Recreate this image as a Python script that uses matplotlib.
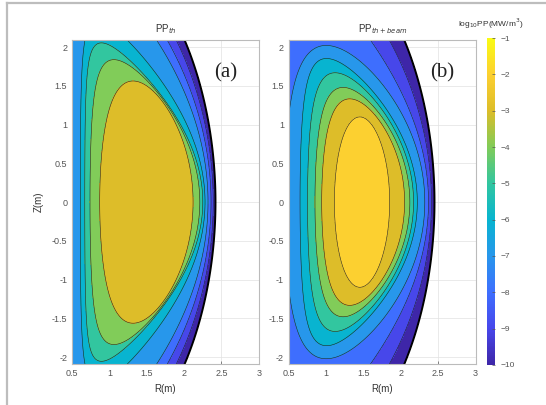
import numpy as np
import matplotlib
matplotlib.use('Agg')
import matplotlib.pyplot as plt
from matplotlib.colors import LinearSegmentedColormap, Normalize
from matplotlib.cm import ScalarMappable
from matplotlib.lines import Line2D

# contour levels of log10 PP
levels = [-10, -9, -8, -7, -6, -5, -4, -3, -2, -1]
cbar_ticks = [-10, -9, -8, -7, -6, -5, -4, -3, -2, -1]
x_ticks = [0.5, 1, 1.5, 2, 2.5, 3]
y_ticks = [-2, -1.5, -1, -0.5, 0, 0.5, 1, 1.5, 2]

# contour boundaries: level, centre R, half width, elongation, triangularity
a_level = [-10, -9, -8, -7, -6, -5, -4, -3]
a_rc = [1.36, 1.36, 1.36, 1.36, 1.445, 1.46, 1.475, 1.495]
a_hw = [1.06, 1.03, 1.00, 0.96, 0.835, 0.79, 0.735, 0.625]
a_kap = [2.90, 2.95, 3.00, 3.00, 2.80, 2.60, 2.50, 2.50]
a_del = [0.246, 0.387, 0.536, 0.65, 0.80, 0.80, 0.60, 0.29]

# same for panel (b)
b_level = [-10, -9, -8, -7, -6, -5, -4, -3, -2]
b_rc = [1.36, 1.36, 1.36, 1.38, 1.435, 1.46, 1.485, 1.495, 1.48]
b_hw = [1.09, 1.05, 1.01, 0.94, 0.785, 0.71, 0.635, 0.555, 0.37]
b_kap = [2.85, 2.90, 2.95, 2.15, 2.36, 2.35, 2.33, 2.40, 2.97]
b_del = [0.227, 0.487, 0.80, 0.416, 0.58, 0.50, 0.42, 0.33, 0.08]

# MATLAB parula(10)
parula_pts = [(0.2422, 0.1504, 0.6603), (0.2803, 0.2782, 0.9221), (0.2440, 0.4358, 0.9988),
              (0.1540, 0.5902, 0.9218), (0.0297, 0.7082, 0.8163), (0.1938, 0.7758, 0.6251),
              (0.5044, 0.7993, 0.3480), (0.8634, 0.7406, 0.1596), (0.9892, 0.8136, 0.1885),
              (0.9769, 0.9839, 0.0805)]
parula = LinearSegmentedColormap.from_list('parula', parula_pts)
norm = Normalize(vmin=-10, vmax=-1)

plt.rcParams['font.family'] = 'Liberation Sans'

R, Z = np.meshgrid(np.linspace(0.5, 3.0, 700), np.linspace(-2.1, 2.1, 1100))


def shape_s(rc, hw, kap, dlt):
    # normalised radius of the D shaped boundary (1 on the boundary)
    th = np.linspace(0, 2 * np.pi, 1440, endpoint=False)
    x = hw * np.cos(th + dlt * np.sin(th))
    z = kap * hw * np.sin(th)
    phi = np.arctan2(z, x)
    r = np.hypot(x, z)
    o = np.argsort(phi)
    rb = np.interp(np.arctan2(Z, R - rc), phi[o], r[o], period=2 * np.pi)
    return np.hypot(R - rc, Z) / rb


def field(lev, rc, hw, kap, dlt):
    f = np.full(R.shape, -10.5)
    for i in range(len(lev)):
        s = shape_s(rc[i], hw[i], kap[i], dlt[i])
        f += np.clip((1 - s) / 0.012 + 0.5, 0, 1)
    return f


# MATLAB style: each band takes the colour of its lower level
band_colors = [parula(norm(v)) for v in levels[:-1]]

fig = plt.figure(figsize=(5.46, 4.05), dpi=100)
ax1 = fig.add_axes([0.132, 0.101, 0.342, 0.80])
ax2 = fig.add_axes([0.529, 0.101, 0.342, 0.80])

panels = [(ax1, field(a_level, a_rc, a_hw, a_kap, a_del), 'PP$_{th}$', '(a)'),
          (ax2, field(b_level, b_rc, b_hw, b_kap, b_del), 'PP$_{th+beam}$', '(b)')]

for ax, F, title, tag in panels:
    ax.contourf(R, Z, F, levels=levels, colors=band_colors)
    ax.contour(R, Z, F, levels=levels[1:], colors='#222222', linewidths=0.4, linestyles='solid')
    ax.contour(R, Z, F, levels=levels[:1], colors='k', linewidths=1.4, linestyles='solid')
    ax.set_xlim(0.5, 3)
    ax.set_ylim(-2.09, 2.09)
    ax.set_xticks(x_ticks)
    ax.set_xticklabels(['0.5', '1', '1.5', '2', '2.5', '3'])
    ax.set_yticks(y_ticks)
    ax.set_yticklabels(['-2', '-1.5', '-1', '-0.5', '0', '0.5', '1', '1.5', '2'])
    ax.tick_params(direction='in', length=2.5, width=0.5, labelsize=6.5, colors='#555555')
    ax.set_axisbelow(True)
    ax.grid(True, color='#e2e2e2', linewidth=0.5)
    for sp in ax.spines.values():
        sp.set_color('#bbbbbb')
        sp.set_linewidth(0.8)
    ax.set_title(title, fontsize=7, color='#333333', pad=6)
    ax.set_xlabel('R(m)', fontsize=7, color='#333333', labelpad=4)
    ax.text(0.82, 0.9, tag, transform=ax.transAxes, ha='center', va='center',
            fontsize=15, family='Liberation Serif', color='#222222')

ax1.set_ylabel('Z(m)', fontsize=7, color='#333333', labelpad=6)

cax = fig.add_axes([0.892, 0.099, 0.015, 0.807])
cb = fig.colorbar(ScalarMappable(norm=norm, cmap=parula), cax=cax, ticks=cbar_ticks)
cb.outline.set_visible(False)
cax.tick_params(direction='in', length=2, width=0.5, labelsize=6, colors='#555555')
cax.set_title('log$_{10}$PP(MW/m$^3$)', fontsize=6, color='#333333', pad=8)

# light grey frame on the left and top of the picture
fig.add_artist(Line2D([0.0128, 0.0128], [0, 0.993], transform=fig.transFigure, color='#bdbdbd', lw=1.6))
fig.add_artist(Line2D([0.0128, 1], [0.993, 0.993], transform=fig.transFigure, color='#bdbdbd', lw=1.6))

fig.savefig('out.png', dpi=100)
